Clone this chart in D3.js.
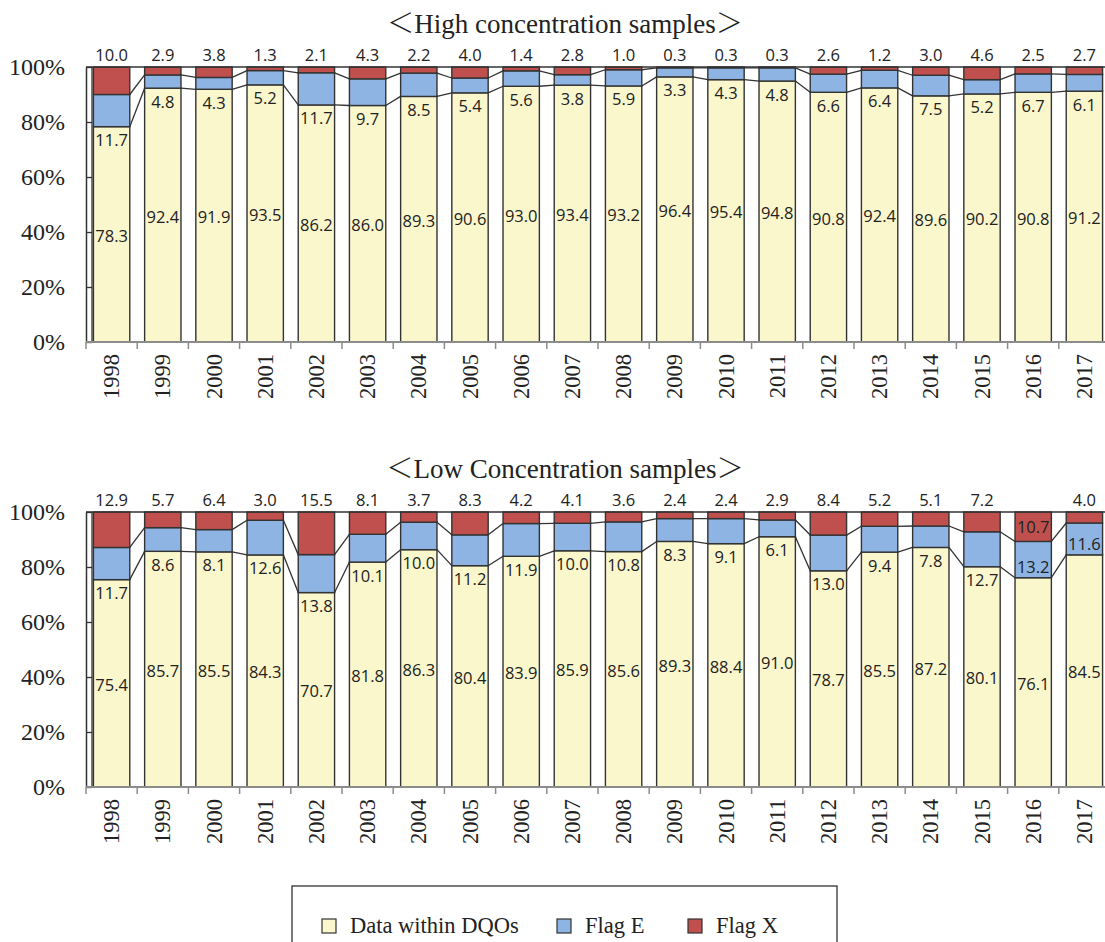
<!DOCTYPE html>
<html>
<head>
<meta charset="utf-8">
<script src="https://cdn.jsdelivr.net/npm/d3@7"></script>
<style>
  html, body { margin: 0; padding: 0; background: #fff; }
  svg { display: block; }
  .serif { font-family: "Liberation Serif", "Times New Roman", serif; fill: #222; }
  .val { font-family: "Open Sans", "Noto Sans", sans-serif; font-size: 16.5px; fill: #222; }
</style>
</head>
<body>
<div id="chart"></div>
<script>
/* Stacked 100% bars: share of samples within DQOs / flag E / flag X per year. */

const YEARS = ["1998", "1999", "2000", "2001", "2002", "2003", "2004", "2005", "2006", "2007",
  "2008", "2009", "2010", "2011", "2012", "2013", "2014", "2015", "2016", "2017"];

// High concentration samples
const HIGH_DQO = [78.3, 92.4, 91.9, 93.5, 86.2, 86.0, 89.3, 90.6, 93.0, 93.4,
  93.2, 96.4, 95.4, 94.8, 90.8, 92.4, 89.6, 90.2, 90.8, 91.2];
const HIGH_E = [11.7, 4.8, 4.3, 5.2, 11.7, 9.7, 8.5, 5.4, 5.6, 3.8,
  5.9, 3.3, 4.3, 4.8, 6.6, 6.4, 7.5, 5.2, 6.7, 6.1];
const HIGH_X = [10.0, 2.9, 3.8, 1.3, 2.1, 4.3, 2.2, 4.0, 1.4, 2.8,
  1.0, 0.3, 0.3, 0.3, 2.6, 1.2, 3.0, 4.6, 2.5, 2.7];

// Low concentration samples
const LOW_DQO = [75.4, 85.7, 85.5, 84.3, 70.7, 81.8, 86.3, 80.4, 83.9, 85.9,
  85.6, 89.3, 88.4, 91.0, 78.7, 85.5, 87.2, 80.1, 76.1, 84.5];
const LOW_E = [11.7, 8.6, 8.1, 12.6, 13.8, 10.1, 10.0, 11.2, 11.9, 10.0,
  10.8, 8.3, 9.1, 6.1, 13.0, 9.4, 7.8, 12.7, 13.2, 11.6];
const LOW_X = [12.9, 5.7, 6.4, 3.0, 15.5, 8.1, 3.7, 8.3, 4.2, 4.1,
  3.6, 2.4, 2.4, 2.9, 8.4, 5.2, 5.1, 7.2, 10.7, 4.0];

const Y_TICKS = [0, 0.2, 0.4, 0.6, 0.8, 1];
const LEGEND = ["Data within DQOs", "Flag E", "Flag X"];
const KEYS = ["dqo", "e", "x"];

const COLORS = { dqo: "#fbf7cd", e: "#8eb4e3", x: "#c0504d", edge: "#333" };

const W = 1105, H = 942;
const svg = d3.select("#chart").append("svg").attr("width", W).attr("height", H);

function renderPanel(opt) {
  const rows = YEARS.map((yr, i) => ({ year: yr, dqo: opt.dqo[i], e: opt.e[i], x: opt.x[i] }));
  const stack = d3.stack().keys(KEYS).offset(d3.stackOffsetExpand)(rows);

  const x = d3.scaleBand().domain(YEARS).range([86, 1110]).paddingInner(0.29).paddingOuter(0.145);
  const y = d3.scaleLinear().domain([0, 1]).range([opt.bottom, opt.top]);
  const bw = x.bandwidth();
  const half = x.step() * x.paddingInner() / 2;

  const g = svg.append("g");

  // title, full-width angle brackets from the CJK font
  const t = g.append("text").attr("class", "serif")
    .attr("x", 565).attr("y", opt.top - 34)
    .attr("text-anchor", "middle").attr("font-size", 27);
  t.append("tspan").attr("font-family", "Noto Sans CJK JP").attr("font-weight", 300).text("＜");
  t.append("tspan").text(opt.title);
  t.append("tspan").attr("font-family", "Noto Sans CJK JP").attr("font-weight", 300).text("＞");

  // bars
  stack.forEach(layer => {
    g.append("g").selectAll("rect").data(layer).join("rect")
      .attr("x", d => x(d.data.year))
      .attr("y", d => y(d[1]))
      .attr("width", bw)
      .attr("height", d => y(d[0]) - y(d[1]))
      .attr("fill", COLORS[layer.key])
      .attr("stroke", COLORS.edge).attr("stroke-width", 1.4);
  });

  // series lines between neighbouring bars
  [0, 1].forEach(k => {
    const layer = stack[k];
    for (let i = 0; i < layer.length - 1; i++) {
      g.append("line")
        .attr("x1", x(YEARS[i]) + bw).attr("y1", y(layer[i][1]))
        .attr("x2", x(YEARS[i + 1])).attr("y2", y(layer[i + 1][1]))
        .attr("stroke", COLORS.edge).attr("stroke-width", 1.3);
    }
  });

  // top frame line at 100%
  g.append("line").attr("x1", 86).attr("x2", 1110)
    .attr("y1", y(1)).attr("y2", y(1))
    .attr("stroke", COLORS.edge).attr("stroke-width", 1.5);

  // y axis (inward ticks) + inner frame line
  const yAxis = g.append("g").attr("transform", "translate(86,0)")
    .call(d3.axisLeft(y).tickValues(Y_TICKS).tickFormat(d3.format(".0%"))
      .tickSizeInner(-6).tickSizeOuter(0).tickPadding(21));
  yAxis.select(".domain").attr("stroke", COLORS.edge).attr("stroke-width", 1.5);
  yAxis.selectAll(".tick line").attr("stroke", COLORS.edge).attr("stroke-width", 1.3);
  yAxis.selectAll(".tick text").attr("class", "serif").attr("font-size", 24)
    .attr("font-family", null).attr("fill", "#222");
  g.append("line").attr("x1", 92).attr("x2", 92)
    .attr("y1", y(0)).attr("y2", y(1))
    .attr("stroke", COLORS.edge).attr("stroke-width", 1.3);

  // x axis: grey baseline, ticks on category boundaries
  g.append("line").attr("x1", 86).attr("x2", 1110)
    .attr("y1", y(0)).attr("y2", y(0))
    .attr("stroke", "#8c8c8c").attr("stroke-width", 2);
  g.append("g").selectAll("line").data(YEARS).join("line")
    .attr("x1", d => x(d) - half).attr("x2", d => x(d) - half)
    .attr("y1", y(0)).attr("y2", y(0) + 7)
    .attr("stroke", "#8c8c8c").attr("stroke-width", 1.5);
  g.append("g").selectAll("text").data(YEARS).join("text")
    .attr("class", "serif").attr("font-size", 22.5)
    .attr("text-anchor", "end").attr("dominant-baseline", "central")
    .attr("transform", d => `translate(${x(d) + bw / 2},${y(0) + 12}) rotate(-90)`)
    .text(d => d);

  // value labels
  const dq = stack[0], fe = stack[1], fx = stack[2];
  g.append("g").selectAll("text").data(dq).join("text")
    .attr("class", "val").attr("text-anchor", "middle").attr("dominant-baseline", "central")
    .attr("x", d => x(d.data.year) + bw / 2)
    .attr("y", d => y((d[0] + d[1]) / 2) + 1)
    .text(d => d.data.dqo.toFixed(1));
  g.append("g").selectAll("text").data(fe).join("text")
    .attr("class", "val").attr("text-anchor", "middle").attr("dominant-baseline", "central")
    .attr("x", d => x(d.data.year) + bw / 2)
    .attr("y", d => opt.eInside.includes(d.data.year) ? y(d[0]) - 11 : y(d[0]) + 13)
    .text(d => d.data.e.toFixed(1));
  g.append("g").selectAll("text").data(fx).join("text")
    .attr("class", "val").attr("text-anchor", "middle")
    .attr("dominant-baseline", d => opt.xInside.includes(d.data.year) ? "central" : "auto")
    .attr("x", d => x(d.data.year) + bw / 2)
    .attr("y", d => opt.xInside.includes(d.data.year) ? y((d[0] + d[1]) / 2) : y(1) - 6)
    .text(d => d.data.x.toFixed(1));
}

renderPanel({
  title: "High concentration samples",
  dqo: HIGH_DQO, e: HIGH_E, x: HIGH_X,
  top: 67, bottom: 342, eInside: [], xInside: []
});

renderPanel({
  title: "Low Concentration samples",
  dqo: LOW_DQO, e: LOW_E, x: LOW_X,
  top: 512, bottom: 787, eInside: ["2016", "2017"], xInside: ["2016"]
});

// legend
const lg = svg.append("g");
lg.append("rect").attr("x", 292).attr("y", 886).attr("width", 545).attr("height", 80)
  .attr("fill", "none").attr("stroke", COLORS.edge).attr("stroke-width", 1.3);
const legendX = [322, 557, 688];
LEGEND.forEach((name, i) => {
  lg.append("rect").attr("x", legendX[i]).attr("y", 919).attr("width", 14).attr("height", 14)
    .attr("fill", COLORS[KEYS[i]]).attr("stroke", COLORS.edge).attr("stroke-width", 1.2);
  lg.append("text").attr("class", "serif").attr("font-size", 22.5)
    .attr("x", legendX[i] + 28).attr("y", 933).text(name);
});
</script>
</body>
</html>
